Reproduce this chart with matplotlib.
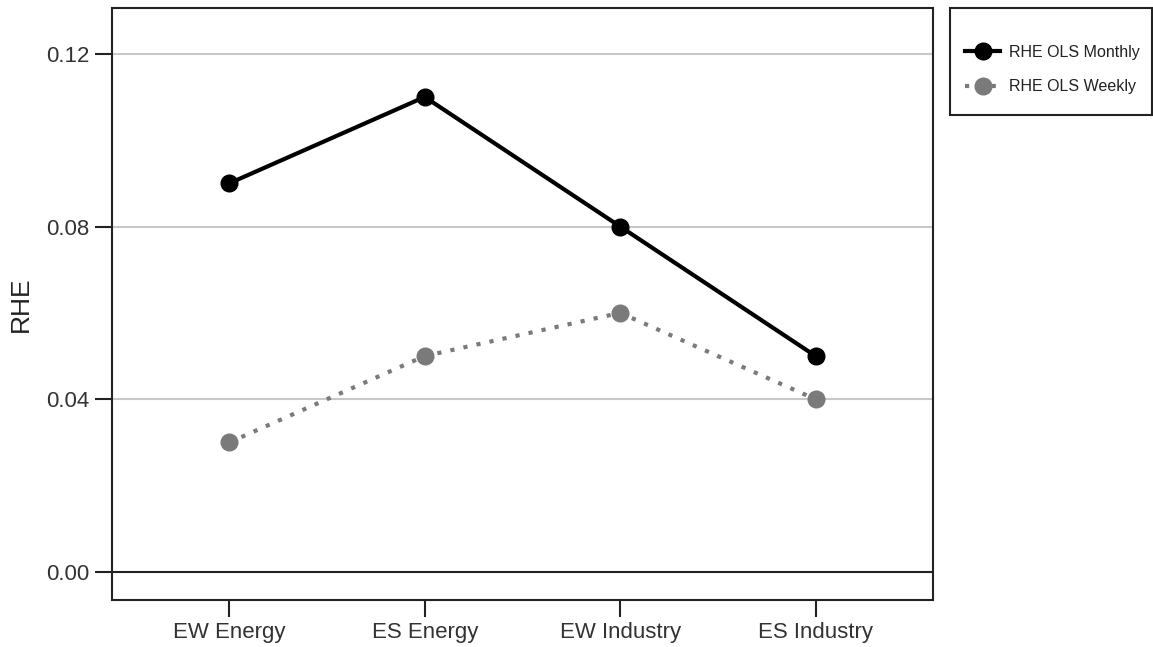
import numpy as np
import matplotlib
matplotlib.use('Agg')
import matplotlib.pyplot as plt
from matplotlib.patches import Rectangle

plt.rcParams['font.family'] = ['Liberation Sans', 'DejaVu Sans']

categories = ['EW Energy', 'ES Energy', 'EW Industry', 'ES Industry']
rhe_monthly = [0.09, 0.11, 0.08, 0.05]
rhe_weekly = [0.03, 0.05, 0.06, 0.04]
yticks = [0.00, 0.04, 0.08, 0.12]

W, H = 1153, 647
fig = plt.figure(figsize=(W / 100, H / 100), dpi=100)
ax = fig.add_axes([0.0971, 0.0726, 0.712, 0.915])

x = np.arange(len(categories))
for yv in yticks[1:]:
    ax.axhline(yv, color='#c8c8c8', lw=1.5, zorder=0)
ax.axhline(0, color='#222222', lw=1.5, zorder=1)

ax.plot(x, rhe_monthly, color='black', lw=3.0, marker='o', ms=12,
        label='RHE OLS Monthly', zorder=3)
ax.plot(x, rhe_weekly, color='#7a7a7a', lw=3.0, ls=(0, (1, 2.2)), marker='o',
        ms=12, label='RHE OLS Weekly', zorder=3)

ax.set_xlim(-0.6, 3.6)
ax.set_ylim(-0.0065, 0.1306)
ax.set_xticks(x)
ax.set_xticklabels(categories)
ax.set_yticks(yticks)
ax.set_yticklabels(['%.2f' % v for v in yticks])
ax.tick_params(axis='both', labelsize=16, length=12, width=1.5, color='#222222',
               labelcolor='#333333', pad=4)
ax.set_ylabel('RHE', fontsize=19, color='#222222', labelpad=10)
for s in ax.spines.values():
    s.set_linewidth(1.5)
    s.set_color('#222222')

# legend box drawn separately so the padding can be uneven like the original
fig.patches.append(Rectangle((950 / W, 1 - 115 / H), 202 / W, 107 / H,
                             transform=fig.transFigure, fill=False,
                             edgecolor='#222222', lw=1.5))
leg = fig.legend(loc='upper left', bbox_to_anchor=(965 / W, 1 - 45 / H),
                 fontsize=11.5, frameon=False, handlelength=2.2,
                 borderpad=0, labelspacing=1.2, handletextpad=0.55,
                 borderaxespad=0, labelcolor='#222222')

fig.savefig('out.png', dpi=100)
